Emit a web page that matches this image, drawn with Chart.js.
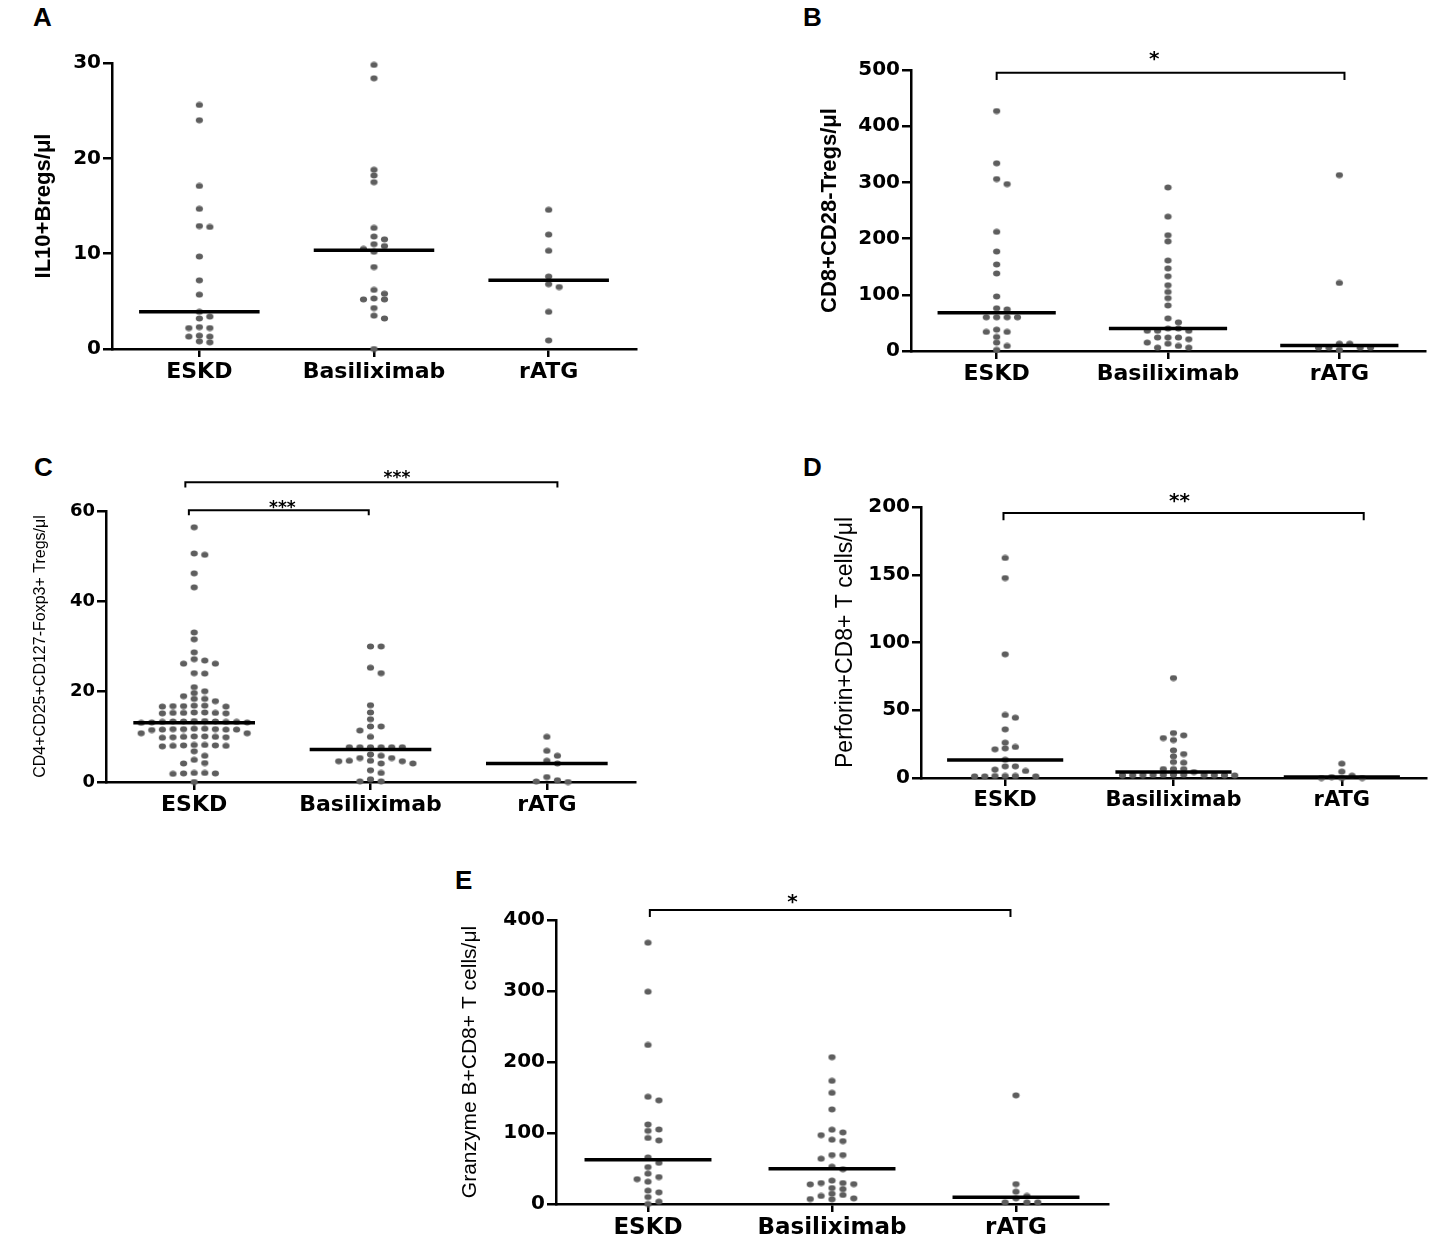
<!DOCTYPE html>
<html><head><meta charset="utf-8">
<script src="https://cdn.jsdelivr.net/npm/chart.js@4.4.1/dist/chart.umd.min.js"></script>
<style>
html,body{margin:0;padding:0;background:#fff;}
body{width:1441px;height:1248px;position:relative;overflow:hidden;}
canvas{position:absolute;}
.lab{position:absolute;font-family:"Liberation Sans",Arial,sans-serif;font-weight:bold;font-size:26px;line-height:26px;color:#000;}
</style></head>
<body>
<div class="lab" style="left:33px;top:4px">A</div>
<div class="lab" style="left:803px;top:4px">B</div>
<div class="lab" style="left:34px;top:454px">C</div>
<div class="lab" style="left:803px;top:454px">D</div>
<div class="lab" style="left:455px;top:867px">E</div>
<canvas id="cA"></canvas><canvas id="cB"></canvas><canvas id="cC"></canvas><canvas id="cD"></canvas><canvas id="cE"></canvas>
<script>
// ---------- data ----------
const categories = ['ESKD', 'Basiliximab', 'rATG'];

// A: IL10+Bregs/μl
const titleA = 'IL10+Bregs/μl';
const yTicksA = [0, 10, 20, 30];
const eskdA = [25.6, 24.0, 17.1, 14.7, 12.9, 12.8, 9.7, 7.2, 5.7, 3.9, 3.4, 3.2, 2.3, 2.2, 2.2, 1.4, 1.3, 1.3, 0.8, 0.7];
const basA  = [29.8, 28.4, 18.8, 18.2, 17.5, 12.7, 11.8, 11.5, 11.0, 10.8, 10.5, 10.2, 8.6, 6.2, 5.8, 5.3, 5.2, 5.2, 4.3, 3.5, 3.2, 0];
const ratgA = [14.6, 12.0, 10.3, 7.6, 6.8, 6.5, 3.9, 0.9];
const medianA = [3.9, 10.35, 7.2];
const sigA = [];

// B: CD8+CD28-Tregs/μl
const titleB = 'CD8+CD28-Tregs/μl';
const yTicksB = [0, 100, 200, 300, 400, 500];
const eskdB = [427, 334, 306, 297, 212, 177, 154, 138, 97, 76, 74, 60, 60, 60, 60, 38, 34, 34, 25, 15, 9, 2];
const basB  = [291, 239, 206, 195, 161, 147, 133, 117, 105, 94, 81, 58, 51, 40, 40, 36, 36, 36, 24, 24, 24, 21, 15, 13, 9, 6, 6];
const ratgB = [313, 121, 13, 13, 6, 6, 6, 6, 2];
const medianB = [68, 40, 10];
const sigB = [{from: 0, to: 2, label: '*'}];

// C: CD4+CD25+CD127-Foxp3+ Tregs/μl
const titleC = 'CD4+CD25+CD127-Foxp3+ Tregs/μl';
const yTicksC = [0, 20, 40, 60];
const eskdC = [56.4, 50.6, 50.3, 46.2, 43.1, 33.1, 31.6, 28.7, 27.2, 26.9, 26.2, 26.2, 24.1, 24.0, 21.0, 20.1, 19.7, 19.0, 18.4, 18.4, 17.9,
  16.9, 16.9, 16.8, 16.8, 16.7, 16.7,
  15.4, 15.4, 15.3, 15.3, 15.3, 15.2, 15.2,
  13.5, 13.5, 13.4, 13.4, 13.4, 13.3, 13.3, 13.3, 13.2, 13.2, 13.1,
  11.8, 11.8, 11.7, 11.7, 11.7, 11.6, 11.6, 11.6, 11.5,
  10.8, 10.8,
  10.1, 10.1, 10.0, 10.0, 9.9, 9.9, 9.8,
  8.2, 8.2, 8.1, 8.1, 8.0, 8.0, 7.9,
  6.8, 5.8, 4.9, 4.2, 4.1,
  2.0, 2.0, 1.9, 1.9, 1.8, 0];
const basC  = [30.0, 30.0, 25.3, 24.1, 17.0, 15.4, 13.9, 12.3, 12.3, 11.4, 10.0, 7.7, 7.7, 7.7, 7.7, 7.7, 7.7, 6.1, 5.8, 5.3, 5.3, 4.7, 4.7, 4.6, 4.6, 4.1, 4.1, 2.6, 2.0, 0.6, 0.15, 0.15];
const ratgC = [10.0, 6.9, 5.8, 4.7, 4.1, 1.1, 0.4, 0.1, 0];
const medianC = [13.1, 7.2, 4.1];
const sigC = [{from: 0, to: 2, label: '***'}, {from: 0, to: 1, label: '***'}];

// D: Perforin+CD8+ T cells/μl
const titleD = 'Perforin+CD8+ T cells/μl';
const yTicksD = [0, 50, 100, 150, 200];
const eskdD = [162.4, 147.6, 91.3, 46.5, 44.5, 35.9, 26.1, 22.9, 21.9, 21.2, 13.5, 8.6, 8.6, 6.2, 5.2, 1.5, 1.5, 1.5, 1.2, 1.2, 1.2];
const basD  = [73.8, 33.2, 31.5, 29.5, 28.0, 20.4, 17.7, 16.0, 11.8, 11.3, 6.6, 6.6, 6.6, 4.4, 2.4, 2.4, 2.3, 2.3, 2.2, 2.2, 2.1, 2.1, 2.0, 2.0, 1.9];
const ratgD = [10.6, 4.7, 1.7, 0.7, 0, 0, 0];
const medianD = [13.3, 4.4, 0.7];
const sigD = [{from: 0, to: 2, label: '**'}];

// E: Granzyme B+CD8+ T cells/μl
const titleE = 'Granzyme B+CD8+ T cells/μl';
const yTicksE = [0, 100, 200, 300, 400];
const eskdE = [368, 299, 224, 151, 146, 112, 105, 103, 93, 89.6, 65.6, 58, 52, 42.7, 38, 35, 31.4, 18.8, 16.4, 9.8, 3.3, 0];
const basE  = [206.8, 173.5, 156.6, 133.2, 104.6, 100.8, 97, 90.5, 88.6, 69, 69, 63.8, 52.5, 49, 33, 29.5, 29.5, 28, 27.7, 22.5, 21, 14.5, 12.7, 11.3, 8, 7, 6.6];
const ratgE = [153, 28, 17.3, 11.3, 8, 2.3, 2.3, 2.3];
const medianE = [62.4, 49.7, 9.4];
const sigE = [{from: 0, to: 2, label: '*'}];

// ---------- layout / style (kept apart from data) ----------
const LAYOUT = {
  A: {canvas: {x: 0, y: 30, w: 700, h: 380}, plot: {l: 112, r: 636, t: 63, b: 349}, titleX: 44,
      titleFont: {size: 22, weight: 'bold'}, tickSize: 20, catSize: 22, slot: 10.5, bracket: []},
  B: {canvas: {x: 720, y: 30, w: 721, h: 380}, plot: {l: 911, r: 1425, t: 70, b: 351}, titleX: 830,
      titleFont: {size: 22, weight: 'bold'}, tickSize: 20, catSize: 22, slot: 10.4,
      bracket: [{x0: 0, x1: 2.03, y: 495.2, drop: 482.2, lx: 0.92, ly: 530, size: 20}]},
  C: {canvas: {x: 0, y: 455, w: 700, h: 375}, plot: {l: 106, r: 635, t: 511, b: 782}, titleX: 41,
      titleFont: {size: 16, weight: 'normal'}, tickSize: 18, catSize: 22, slot: 10.6,
      bracket: [{x0: -0.05, x1: 2.06, y: 66.35, drop: 65.2, lx: 1.15, ly: 68.45, size: 17},
                {x0: -0.03, x1: 0.99, y: 60.15, drop: 59.05, lx: 0.50, ly: 61.9, size: 17}]},
  D: {canvas: {x: 720, y: 455, w: 721, h: 375}, plot: {l: 921, r: 1426, t: 507, b: 778}, titleX: 846,
      titleFont: {size: 23, weight: 'normal'}, tickSize: 20, catSize: 21, slot: 10.2,
      bracket: [{x0: -0.01, x1: 2.13, y: 195.6, drop: 190.3, lx: 1.036, ly: 209, size: 20}]},
  E: {canvas: {x: 400, y: 875, w: 760, h: 373}, plot: {l: 556, r: 1108, t: 920, b: 1204}, titleX: 470,
      titleFont: {size: 21, weight: 'normal'}, tickSize: 20, catSize: 23, slot: 10.9,
      bracket: [{x0: 0.01, x1: 1.97, y: 414, drop: 404.2, lx: 0.785, ly: 433.8, size: 20}]}
};
const DOT_COLOR = '#5e5e5e';
const AXIS_W = 2.5;
const MED_HALF = 0.345;
const DV = 5.5;

// elliptical dot symbol
const dot = document.createElement('canvas');
dot.width = 9; dot.height = 7;
(function(){ const g = dot.getContext('2d'); g.fillStyle = DOT_COLOR; g.beginPath(); g.ellipse(4.5, 3.5, 3.6, 2.9, 0, 0, Math.PI*2); g.fill(); })();

const starPlugin = {
  id: 'stars',
  afterDatasetsDraw(chart, args, opts) {
    const {ctx, scales: {x, y}} = chart;
    ctx.save();
    ctx.fillStyle = '#000';
    ctx.textAlign = 'center';
    ctx.textBaseline = 'alphabetic';
    (opts.items || []).forEach(it => {
      ctx.font = `bold ${it.size}px "DejaVu Sans", sans-serif`;
      ctx.fillText(it.text, x.getPixelForValue(it.x), y.getPixelForValue(it.y) + 0.6 * it.size);
    });
    ctx.restore();
  }
};

function swarm(vals, cat, xs, ys, slotPx) {
  const pxPerX = Math.abs(xs.getPixelForValue(1) - xs.getPixelForValue(0));
  const order = vals.map((v, i) => i).sort((a, b) => vals[b] - vals[a]);
  const placed = [], out = new Array(vals.length);
  for (const i of order) {
    const py = ys.getPixelForValue(vals[i]);
    for (let n = 0; ; n++) {
      const k = n === 0 ? 0 : (n % 2 ? (n + 1) / 2 : -n / 2);
      if (!placed.some(p => p.k === k && Math.abs(p.py - py) < DV)) {
        placed.push({k, py});
        out[i] = {x: cat + k * slotPx / pxPerX, y: vals[i]};
        break;
      }
    }
  }
  return out;
}

function build(id, groups, medians, yTicks, title, sig) {
  const L = LAYOUT[id];
  const cv = document.getElementById('c' + id);
  cv.width = L.canvas.w; cv.height = L.canvas.h;
  cv.style.left = L.canvas.x + 'px'; cv.style.top = L.canvas.y + 'px';
  const yW = L.plot.l - L.canvas.x;
  const xH = L.canvas.y + L.canvas.h - L.plot.b;
  const tLH = L.titleFont.size * 1.2;

  const datasets = [];
  groups.forEach((vals, g) => datasets.push({
    type: 'scatter', data: vals.map(v => ({x: g, y: v})),
    pointStyle: dot, pointRadius: 3.5, showLine: false, clip: false, order: 2
  }));
  medians.forEach((m, g) => datasets.push({
    type: 'line', data: [{x: g - MED_HALF, y: m}, {x: g + MED_HALF, y: m}],
    borderColor: '#000', borderWidth: 3.5, pointRadius: 0, clip: false, order: 1, borderCapStyle: 'butt'
  }));
  const stars = [];
  sig.forEach((s, i) => {
    const b = L.bracket[i];
    datasets.push({
      type: 'line', data: [{x: b.x0, y: b.drop}, {x: b.x0, y: b.y}, {x: b.x1, y: b.y}, {x: b.x1, y: b.drop}],
      borderColor: '#000', borderWidth: 2, pointRadius: 0, clip: false, order: 1, tension: 0
    });
    stars.push({text: s.label, x: b.lx, y: b.ly, size: b.size});
  });

  const tickFont = {family: 'DejaVu Sans', weight: 'bold', size: L.tickSize};
  const chart = new Chart(cv, {
    type: 'scatter',
    data: {datasets},
    plugins: [starPlugin],
    options: {
      responsive: false, animation: false, events: [],
      layout: {padding: {left: 0, top: L.plot.t - L.canvas.y, right: L.canvas.x + L.canvas.w - L.plot.r, bottom: 0}},
      plugins: {legend: {display: false}, tooltip: {enabled: false}, stars: {items: stars}},
      scales: {
        x: {
          type: 'linear', min: -0.5, max: 2.5,
          afterBuildTicks: s => { s.ticks = categories.map((c, i) => ({value: i})); },
          afterFit: s => { s.height = xH; },
          grid: {drawOnChartArea: false, drawTicks: true, tickLength: 8, tickWidth: AXIS_W, lineWidth: AXIS_W, tickColor: '#000', color: '#000'},
          border: {display: true, color: '#000', width: AXIS_W},
          ticks: {autoSkip: false, maxRotation: 0, minRotation: 0, padding: 2, color: '#000',
                  font: {family: 'DejaVu Sans', weight: 'bold', size: L.catSize},
                  callback: v => categories[v]}
        },
        y: {
          type: 'linear', min: yTicks[0], max: yTicks[yTicks.length - 1],
          afterBuildTicks: s => { s.ticks = yTicks.map(v => ({value: v})); },
          afterFit: s => { s.width = yW; },
          grid: {drawOnChartArea: false, drawTicks: true, tickLength: 9, tickWidth: AXIS_W, lineWidth: AXIS_W, tickColor: '#000', color: '#000'},
          border: {display: true, color: '#000', width: AXIS_W},
          ticks: {padding: 2, color: '#000', font: tickFont, autoSkip: false},
          title: {display: true, text: title, color: '#000',
                  font: {family: 'Liberation Sans', size: L.titleFont.size, weight: L.titleFont.weight, lineHeight: 1.2},
                  padding: {top: L.titleX - L.canvas.x - tLH / 2, bottom: 0}}
        }
      }
    }
  });
  const xs = chart.scales.x, ys = chart.scales.y;
  groups.forEach((vals, g) => { chart.data.datasets[g].data = swarm(vals, g, xs, ys, L.slot); });
  chart.update('none');
  return chart;
}

build('A', [eskdA, basA, ratgA], medianA, yTicksA, titleA, sigA);
build('B', [eskdB, basB, ratgB], medianB, yTicksB, titleB, sigB);
build('C', [eskdC, basC, ratgC], medianC, yTicksC, titleC, sigC);
build('D', [eskdD, basD, ratgD], medianD, yTicksD, titleD, sigD);
build('E', [eskdE, basE, ratgE], medianE, yTicksE, titleE, sigE);
</script>
</body></html>
